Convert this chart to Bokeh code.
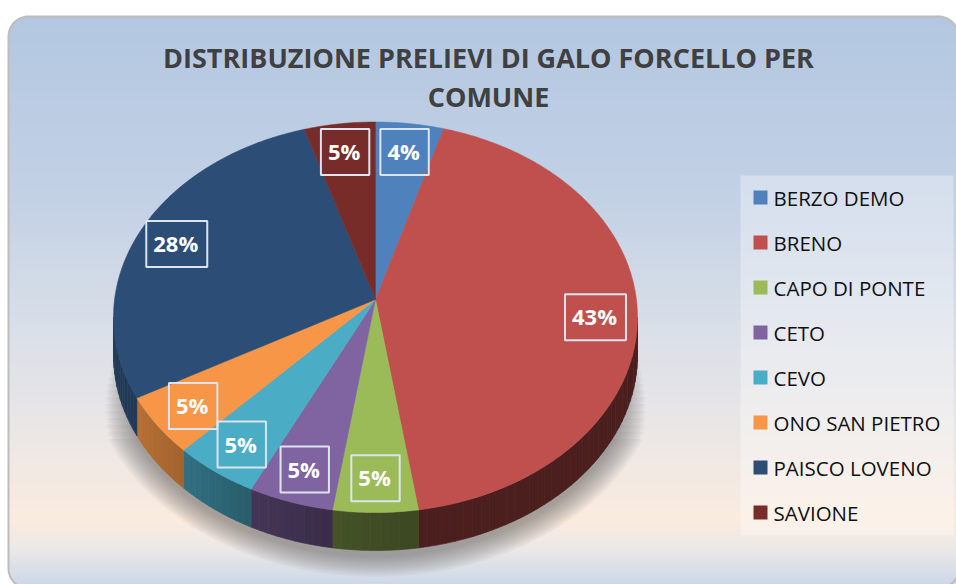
import numpy as np
from bokeh.plotting import figure
from bokeh.models import Range1d
from bokeh.core.properties import value
from bokeh.embed import file_html
from bokeh.resources import INLINE

# ---------------- data ----------------
categories = ["BERZO DEMO", "BRENO", "CAPO DI PONTE", "CETO", "CEVO",
              "ONO SAN PIETRO", "PAISCO LOVENO", "SAVIONE"]
values = [4.4, 43.1, 5.0, 5.0, 5.0, 5.0, 27.9, 4.6]
colors = ["#4f81bd", "#c0504d", "#9bbb59", "#8064a2", "#4bacc6",
          "#f79646", "#2c4d75", "#772c2a"]
labels = [f"{round(v)}%" for v in values]
title_lines = ["DISTRIBUZIONE PRELIEVI DI GALO FORCELLO PER", "COMUNE"]

# ---------------- geometry (page pixel coordinates) ----------------
CX, CY, A, B, K = 375.0, 307.0, 261.7, 194.8, 0.05
APEX_Y = 299.0
DEPTH = 38.0
LABEL_R = 0.84
T1 = np.degrees(np.arccos(-K))          # silhouette tangent points
T2 = 360.0 - T1


def proj(theta, r=1.0):
    t = np.radians(theta)
    u = r * np.sin(t)
    v = r * np.cos(t)
    d = 1 + K * v
    return CX + A * u / d, CY - B * v / d


def hex2rgb(h):
    h = h.lstrip("#")
    return tuple(int(h[i:i + 2], 16) for i in (0, 2, 4))


def rgb2hex(c):
    return "#%02x%02x%02x" % tuple(int(max(0, min(255, round(x)))) for x in c)


W, H = 956, 584
p = figure(width=W, height=H, x_range=Range1d(0, W), y_range=Range1d(H, 0),
           toolbar_location=None, output_backend="svg", min_border=0, tools="",
           x_axis_type=None, y_axis_type=None)
p.grid.visible = False
p.outline_line_color = None
p.background_fill_color = "white"
p.border_fill_color = "white"

# ---------------- background gradient & frame ----------------
FL, FT, FR, FB, RAD = 8.0, 16.0, 958.0, 588.0, 20.0
stop_y = [16, 200, 330, 450, 520, 548, 590]
stop_c = [(179, 199, 225), (195, 209, 229), (218, 223, 232), (238, 232, 229),
          (250, 235, 222), (236, 232, 231), (200, 213, 232)]
ys = np.arange(FT, FB, 2.0)
cols = [rgb2hex([np.interp(y + 1, stop_y, [c[k] for c in stop_c]) for k in range(3)]) for y in ys]
p.quad(left=FL, right=FR, top=ys, bottom=ys + 2.6, fill_color=cols, line_color=None)

phi = np.radians(np.linspace(0, 90, 20))
corners = [  # (corner point, arc centre, sx, sy)
    ((FL, FT), (FL + RAD, FT + RAD), -1, -1),
    ((FR, FT), (FR - RAD, FT + RAD), 1, -1),
    ((FL, FB), (FL + RAD, FB - RAD), -1, 1),
]
for (px, py), (ccx, ccy), sx, sy in corners:
    ax = ccx + sx * RAD * np.cos(phi)
    ay = ccy + sy * RAD * np.sin(phi)
    p.patch(np.concatenate([[px], ax]), np.concatenate([[py], ay]),
            fill_color="white", line_color="white", line_width=1)

# border path
bx, by = [], []
for ang0, (ccx, ccy) in [(180, (FL + RAD, FT + RAD)), (270, (FR - RAD, FT + RAD)),
                         (0, (FR - RAD, FB - RAD)), (90, (FL + RAD, FB - RAD))]:
    a = np.radians(np.linspace(ang0, ang0 + 90, 20))
    bx.extend(ccx + RAD * np.cos(a))
    by.extend(ccy + RAD * np.sin(a))
bx.append(bx[0]); by.append(by[0])
p.line(bx, by, line_color="#bdbdbd", line_width=2)

# ---------------- soft shadow ----------------
for e in np.arange(0, 26, 2):
    th = np.linspace(92 + e * 0.9, 268 - e * 0.9, 140)
    t = np.radians(th)
    u, v = np.sin(t), np.cos(t)
    d = 1 + K * v
    sx_ = CX + (A + e) * u / d
    sy_ = CY + DEPTH + 6 - (B + e * 0.8) * v / d
    p.patch(sx_, sy_, fill_color="#3a3a3a", fill_alpha=0.045, line_color=None)

# ---------------- pie ----------------
cum = np.concatenate([[0], np.cumsum(values)])
total = cum[-1]
starts = cum[:-1] / total * 360.0
ends = cum[1:] / total * 360.0

shade_th = [175, 190, 207, 225, 243, 267]
shade_f = [0.39, 0.45, 0.54, 0.66, 0.745, 0.76]

side_xs, side_ys, side_cols = [], [], []
for a1, a2, c in zip(starts, ends, colors):
    lo, hi = max(a1, T1), min(a2, T2)
    if hi <= lo:
        continue
    n = max(1, int(np.ceil((hi - lo) / 2.0)))
    edges = np.linspace(lo, hi, n + 1)
    base = hex2rgb(c)
    for ta, tb in zip(edges[:-1], edges[1:]):
        xa, ya = proj(ta)
        xb, yb = proj(tb)
        side_xs.append([xa, xb, xb, xa])
        side_ys.append([ya, yb, yb + DEPTH, ya + DEPTH])
        f = np.interp((ta + tb) / 2, shade_th, shade_f)
        side_cols.append(rgb2hex([ch * f for ch in base]))
p.patches(side_xs, side_ys, fill_color=side_cols, line_color=side_cols, line_width=0.6)

top_xs, top_ys = [], []
for a1, a2 in zip(starts, ends):
    n = max(2, int(np.ceil((a2 - a1) / 0.8)))
    th_ = np.linspace(a1, a2, n + 1)
    rx, ry = proj(th_)
    top_xs.append(np.concatenate([[CX], rx]))
    top_ys.append(np.concatenate([[APEX_Y], ry]))
p.patches(top_xs, top_ys, fill_color=colors, line_color=colors, line_width=0.5)

# ---------------- data labels ----------------
mids = (starts + ends) / 2
lx, ly = proj(mids, LABEL_R)
p.text(x=lx, y=ly, text=labels, text_align="center", text_baseline="middle",
       text_font=value("Open Sans"), text_font_style="bold", text_font_size="22px",
       text_color="white", border_line_color="#dce4f0", border_line_width=2,
       padding=(7, 9, 7, 9))

# ---------------- legend ----------------
LEG_L, LEG_R, LEG_T, LEG_B = 740, 953, 175, 535
p.quad(left=[LEG_L], right=[LEG_R], top=[LEG_T], bottom=[LEG_B],
       fill_color="white", fill_alpha=0.33, line_color=None)
rows = 197 + 45 * np.arange(len(categories))
p.quad(left=753, right=767, top=rows - 7, bottom=rows + 7, fill_color=colors, line_color=None)
p.text(x=773, y=rows, text=categories, text_align="left", text_baseline="middle",
       text_font=value("Open Sans"), text_font_size="20.5px", text_color="#111111")

# ---------------- title ----------------
p.text(x=[488, 488], y=[57, 96], text=title_lines, text_align="center", text_baseline="middle",
       text_font=value("Open Sans"), text_font_style="bold", text_font_size="27px",
       text_color="#404040")

open("out.html", "w").write(file_html(p, INLINE))
